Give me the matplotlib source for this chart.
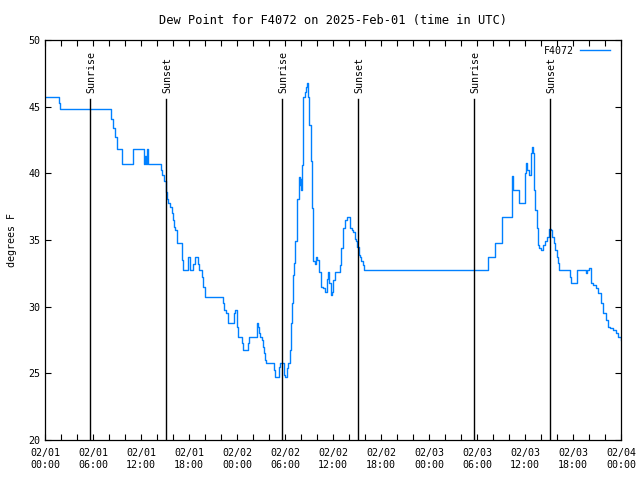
import matplotlib
matplotlib.use('Agg')
import matplotlib.pyplot as plt
from matplotlib.ticker import MultipleLocator

# hours since 02/01 00:00 UTC and dew point (F)
hours = [0.0, 1.54, 1.7, 1.88, 8.0, 8.2, 8.5, 8.7, 9.04, 9.54, 9.6, 10.9, 11.04,
         11.96, 12.37, 12.5, 12.66, 12.79, 12.91, 14.25, 14.46, 14.66, 14.88,
         15.08, 15.21, 15.41, 15.62, 15.84, 15.96, 16.12, 16.29, 16.46, 16.54,
         16.96, 17.09, 17.21, 17.71, 17.91, 18.12, 18.46, 18.54, 18.79, 19.04,
         19.16, 19.29, 19.5, 19.62, 19.79, 19.96, 20.04, 22.16, 22.29, 22.41,
         22.62, 22.84, 22.91, 23.46, 23.62, 23.79, 23.96, 24.09, 24.54, 24.66,
         24.79, 25.29, 25.41, 25.54, 26.34, 26.46, 26.59, 26.71, 26.88, 27.09,
         27.21, 27.38, 27.5, 27.62, 28.54, 28.66, 28.79, 29.04, 29.21, 29.38,
         29.71, 29.88, 30.04, 30.21, 30.34, 30.46, 30.62, 30.75, 30.88, 31.04,
         31.16, 31.29, 31.46, 31.54, 31.71, 31.79, 31.88, 31.96, 32.04, 32.12,
         32.21, 32.29, 32.46, 32.62, 32.79, 32.88, 33.04, 33.21, 33.34, 33.46,
         33.54, 33.71, 33.88, 34.04, 34.29, 34.46, 34.79, 35.0, 35.21, 35.38,
         35.54, 35.71, 35.88, 36.04, 36.29, 36.66, 36.88, 37.0, 37.21, 37.46,
         37.71, 37.96, 38.12, 38.34, 38.54, 38.71, 38.88, 39.04, 39.21, 39.38,
         39.54, 39.71, 39.88, 55.29, 55.41, 56.04, 56.25, 57.09, 57.16, 58.25,
         58.34, 58.41, 58.54, 59.09, 59.25, 59.91, 60.0, 60.12, 60.29, 60.54,
         60.71, 60.84, 60.96, 61.12, 61.29, 61.46, 61.62, 61.79, 62.04, 62.29,
         62.54, 62.79, 62.96, 63.21, 63.38, 63.62, 63.79, 63.96, 64.12, 64.29,
         65.41, 65.62, 65.79, 66.21, 66.46, 67.5, 67.62, 67.79, 68.0, 68.21,
         68.54, 68.88, 69.16, 69.46, 69.79, 70.12, 70.41, 70.62, 71.04, 71.34,
         71.66, 71.96]
dewpt = [45.7, 45.7, 45.3, 44.8, 44.8, 44.1, 43.4, 42.75, 41.8, 41.8, 40.7, 40.7, 41.8,
         41.8, 40.7, 41.3, 40.7, 41.8, 40.7, 40.7, 40.25, 39.9, 39.4,
         38.6, 38.1, 37.75, 37.5, 37.0, 36.5, 36.0, 35.75, 35.1, 34.75,
         34.75, 33.5, 32.75, 32.75, 33.75, 32.75, 32.75, 33.2, 33.75, 33.75,
         33.2, 32.75, 32.75, 32.2, 31.5, 31.0, 30.75, 30.75, 30.25, 29.75,
         29.5, 29.0, 28.75, 28.75, 29.5, 29.75, 28.5, 27.75, 27.75, 27.25,
         26.75, 26.75, 27.25, 27.75, 27.75, 28.75, 28.5, 28.0, 27.75, 27.5,
         27.0, 26.5, 26.0, 25.75, 25.75, 25.25, 24.75, 24.75, 25.5, 25.75,
         25.75, 24.9, 24.75, 25.4, 25.75, 25.75, 26.75, 28.75, 30.25, 32.4,
         33.25, 34.9, 36.75, 38.1, 39.1, 39.75, 39.1, 39.6, 38.75, 40.6,
         44.1, 45.75, 46.1, 46.5, 46.75, 45.75, 43.6, 40.9, 37.4, 35.1,
         33.4, 33.2, 33.75, 33.5, 32.6, 31.5, 31.4, 31.1, 32.1, 32.6,
         31.75, 30.9, 31.1, 32.0, 32.6, 32.6, 33.1, 34.4, 35.9, 36.5,
         36.75, 36.75, 35.9, 35.75, 35.6, 35.1, 34.9, 34.5, 33.9, 33.75,
         33.4, 33.1, 32.75, 32.75, 33.75, 33.75, 34.75, 34.75, 36.75, 36.75,
         38.25, 39.8, 38.75, 38.75, 37.75, 37.75, 40.0, 40.75, 40.25, 39.9,
         41.5, 41.95, 41.5, 38.75, 37.25, 35.9, 34.6, 34.4, 34.25, 34.6,
         34.9, 35.25, 35.8, 35.75, 35.25, 34.75, 34.25, 33.75, 33.25, 32.75,
         32.75, 32.25, 31.75, 31.75, 32.75, 32.75, 32.5, 32.75, 32.9, 31.75,
         31.6, 31.4, 31.0, 30.25, 29.5, 29.0, 28.5, 28.4, 28.25, 28.0,
         27.75, 27.5]

sun_hours = [5.67, 15.17, 29.67, 39.17, 53.67, 63.17]
sun_labels = ['Sunrise', 'Sunset', 'Sunrise', 'Sunset', 'Sunrise', 'Sunset']

tick_hours = list(range(0, 73, 6))
tick_days = ['02/01'] * 4 + ['02/02'] * 4 + ['02/03'] * 4 + ['02/04']
tick_times = ['00:00', '06:00', '12:00', '18:00'] * 3 + ['00:00']

plt.rcParams['font.family'] = 'DejaVu Sans Mono'
plt.rcParams['font.size'] = 7.2

fig = plt.figure(figsize=(6.4, 4.8), dpi=100)
ax = fig.add_axes([45 / 640, 40 / 480, 576 / 640, 400 / 480])

ax.plot(hours, dewpt, color='#0080ff', lw=1.0, label='F4072', drawstyle='steps-post')

for h, lab in zip(sun_hours, sun_labels):
    ax.plot([h, h], [20, 45.6], color='black', lw=1.0)
    ax.text(h + 0.15, 46.0, lab, rotation=90, ha='center', va='bottom')

ax.set_xlim(0, 72)
ax.set_ylim(20, 50)
ax.set_xticks(tick_hours)
ax.set_xticklabels([d + '\n' + t for d, t in zip(tick_days, tick_times)])
ax.xaxis.set_minor_locator(MultipleLocator(2))
ax.set_yticks(range(20, 51, 5))
ax.tick_params(which='both', direction='in', top=True, right=True, length=4, width=0.8)
ax.tick_params(axis='x', pad=6)
for s in ax.spines.values():
    s.set_linewidth(0.9)

ax.set_ylabel('degrees F', labelpad=8)
ax.set_title('Dew Point for F4072 on 2025-Feb-01 (time in UTC)', pad=11.5)
ax.legend(loc='upper right', bbox_to_anchor=(0.984, 0.99), frameon=False,
          markerfirst=False, handlelength=3.0, borderaxespad=0.0,
          handletextpad=0.6, borderpad=0.2)

fig.savefig('out.png', dpi=100)
